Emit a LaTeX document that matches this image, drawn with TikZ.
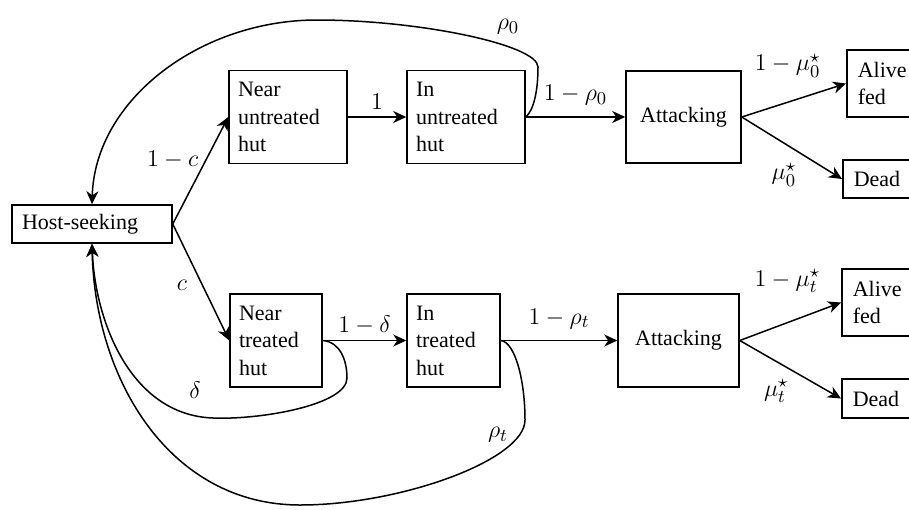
\documentclass[tikz,border=0pt]{standalone}
\usepackage{fontspec}
\setmainfont{Liberation Serif}
\usepackage{amsmath}
\usetikzlibrary{shapes,arrows,arrows.meta,positioning,calc}

\begin{document}
\begin{tikzpicture}[x=0.5pt,y=-0.5pt,font=\fontsize{11}{13.75}\selectfont]
  % Estilos
  \tikzstyle{estado}=[rectangle, draw, line width=0.75pt, inner sep=4.5pt, align=left]
  \tikzstyle{hut}=[estado, minimum height=46.5pt]
  \tikzstyle{final}=[estado, inner xsep=5.5pt, anchor=west]
  \tikzstyle{flecha}=[->, line width=0.75pt, >={Stealth[length=6.5pt,width=6pt,inset=2pt]}]
  \tikzstyle{etq}=[inner sep=3.5pt, font=\fontsize{12.5}{14}\selectfont]

  \useasboundingbox (0,0) rectangle (909,509);

  % Estado inicial
  \node[estado, text width=70pt, inner xsep=5pt, minimum height=19pt] (host) at (92,224) {Host-seeking};

  % Rama sin tratar
  \node[hut, text width=50pt] (nu) at (288,117) {Near\\untreated\\hut};
  \node[hut, text width=50pt] (iu) at (466,117) {In\\untreated\\hut};
  \node[estado, minimum width=57.5pt, minimum height=46pt, align=center] (at0) at (683.5,117) {Attacking};
  \node[final, minimum height=33.5pt] (al0) at (846,83.5) {Alive\\fed};
  \node[final, minimum height=19pt] (de0) at (842,179) {Dead};

  % Rama tratada
  \node[hut, text width=37pt] (nt) at (276,340.5) {Near\\treated\\hut};
  \node[hut, text width=37.5pt] (it) at (453.5,340.5) {In\\treated\\hut};
  \node[estado, minimum width=60.5pt, minimum height=46.5pt, align=center] (att) at (678.5,340.5) {Attacking};
  \node[final, minimum height=33.5pt] (alt) at (841,302.5) {Alive\\fed};
  \node[final, minimum height=19.5pt] (det) at (841,398.5) {Dead};

  % Transiciones
  \draw[flecha] (host.east) -- node[etq, pos=0.6, left] {$1-c$} (nu.west);
  \draw[flecha] (host.east) -- node[etq, pos=0.53, left=4pt] {$c$} (nt.west);

  \draw[flecha] (nu) -- node[etq, above] {$1$} (iu);
  \draw[flecha] (iu) -- node[etq, above=2pt] {$1-\rho_0$} (at0);
  \draw[flecha] (at0.east) -- node[etq, pos=0.44, above=8.5pt] {$1-\mu_0^\star$} (al0.west);
  \draw[flecha] (at0.east) -- node[etq, pos=0.42, below=6pt] {$\mu_0^\star$} (de0.west);

  \draw[flecha] (nt) -- node[etq, above=-1pt] {$1-\delta$} (it);
  \draw[flecha] (it) -- node[etq, above=2pt] {$1-\rho_t$} (att);
  \draw[flecha] (att.east) -- node[etq, pos=0.47, above=11pt] {$1-\mu_t^\star$} (alt.west);
  \draw[flecha] (att.east) -- node[etq, pos=0.36, below=5pt] {$\mu_t^\star$} (det.west);

  % Regresos a la busqueda
  \draw[flecha] (iu.east) .. controls (534,110) and (538,90) .. (538,67)
    .. controls (538,45) and (420,20) .. (317,20)
    .. controls (200,20) and (95,100) .. (host.north);
  \draw[flecha] (nt.east) .. controls (340,342) and (347,360) .. (347,378)
    .. controls (347,405) and (260,420) .. (213,418)
    .. controls (130,415) and (95,320) .. (host.south);
  \draw[flecha] (it.east) .. controls (515,342) and (525,380) .. (525,420)
    .. controls (525,460) and (400,505) .. (300,505)
    .. controls (170,505) and (95,380) .. (host.south);

  % Etiquetas de los regresos
  \node[etq, inner sep=0pt] (lrho0) at (508,27) {$\rho_0$};
  \node[etq, inner sep=0pt] (ldelta) at (195,390) {$\delta$};
  \node[etq, inner sep=0pt] (lrhot) at (498,435) {$\rho_t$};
\end{tikzpicture}
\end{document}
